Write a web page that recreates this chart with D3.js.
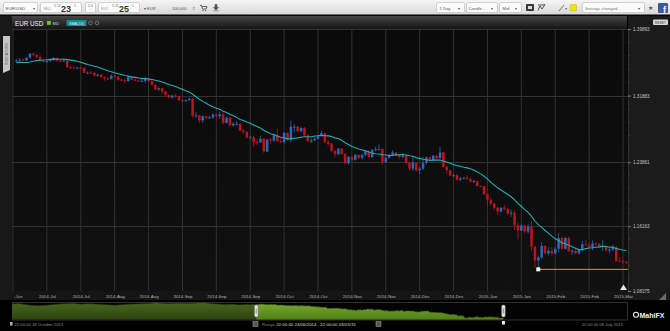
<!DOCTYPE html>
<html>
<head>
<meta charset="utf-8">
<script src="https://cdnjs.cloudflare.com/ajax/libs/d3/7.8.5/d3.min.js"></script>
<style>
body { margin:0; background:#000; }
svg { display:block; font-family:"Liberation Sans", Arial, sans-serif; }
</style>
</head>
<body>
<svg width="670" height="331"></svg>
<script>
// daily EUR/USD mid candles, 24 Jun 2014 .. 03 Mar 2015 (weekdays)
var opens = [
  1.3605,1.3608,1.3620,1.3613,1.3644,1.3692,1.3677,1.3654,1.3610,1.3595,
  1.3605,1.3615,1.3642,1.3609,1.3604,1.3610,1.3530,1.3526,1.3525,1.3525,
  1.3522,1.3463,1.3464,1.3461,1.3430,1.3440,1.3412,1.3397,1.3390,1.3427,
  1.3416,1.3380,1.3372,1.3362,1.3413,1.3379,1.3370,1.3363,1.3365,1.3400,
  1.3362,1.3318,1.3262,1.3277,1.3238,1.3194,1.3166,1.3189,1.3180,1.3131,
  1.3130,1.3133,1.3149,1.2945,1.2951,1.2891,1.2940,1.2920,1.2925,1.2960,
  1.2940,1.2962,1.2860,1.2923,1.2830,1.2849,1.2850,1.2765,1.2750,1.2685,
  1.2687,1.2628,1.2625,1.2670,1.2515,1.2660,1.2648,1.2715,1.2640,1.2627,
  1.2740,1.2655,1.2815,1.2815,1.2760,1.2798,1.2710,1.2640,1.2648,1.2670,
  1.2700,1.2735,1.2630,1.2610,1.2525,1.2483,1.2550,1.2488,1.2375,1.2450,
  1.2416,1.2475,1.2440,1.2475,1.2525,1.2450,1.2535,1.2545,1.2545,1.2390,
  1.2440,1.2470,1.2505,1.2470,1.2450,1.2470,1.2380,1.2310,1.2380,1.2290,
  1.2310,1.2380,1.2445,1.2410,1.2465,1.2435,1.2505,1.2330,1.2290,1.2225,
  1.2230,1.2175,1.2190,1.2200,1.2185,1.2155,1.2160,1.2100,1.2098,1.2000,
  1.1935,1.1890,1.1840,1.1795,1.1840,1.1825,1.1770,1.1780,1.1630,1.1565,
  1.1625,1.1555,1.1610,1.1370,1.1205,1.1240,1.1380,1.1290,1.1320,1.1290,
  1.1345,1.1475,1.1345,1.1475,1.1315,1.1320,1.1290,1.1330,1.1400,1.1390,
  1.1365,1.1410,1.1400,1.1375,1.1380,1.1330,1.1335,1.1365,1.1200,1.1195,
  1.1185];
var highs = [
  1.3628,1.3640,1.3635,1.3655,1.3700,1.3700,1.3685,1.3675,1.3615,1.3620,
  1.3630,1.3650,1.3650,1.3625,1.3625,1.3625,1.3545,1.3545,1.3535,1.3540,
  1.3530,1.3480,1.3490,1.3470,1.3450,1.3445,1.3420,1.3410,1.3445,1.3440,
  1.3425,1.3395,1.3395,1.3425,1.3420,1.3395,1.3380,1.3390,1.3415,1.3400,
  1.3370,1.3325,1.3295,1.3285,1.3245,1.3200,1.3195,1.3210,1.3185,1.3145,
  1.3140,1.3165,1.3160,1.2990,1.2955,1.2950,1.2945,1.2945,1.2975,1.2960,
  1.2995,1.2985,1.2935,1.2930,1.2870,1.2885,1.2855,1.2790,1.2760,1.2705,
  1.2705,1.2665,1.2700,1.2675,1.2670,1.2680,1.2725,1.2790,1.2680,1.2750,
  1.2745,1.2887,1.2845,1.2815,1.2815,1.2810,1.2720,1.2685,1.2695,1.2715,
  1.2765,1.2745,1.2655,1.2620,1.2530,1.2560,1.2555,1.2495,1.2460,1.2460,
  1.2485,1.2480,1.2490,1.2535,1.2525,1.2545,1.2575,1.2600,1.2555,1.2450,
  1.2490,1.2530,1.2510,1.2475,1.2500,1.2475,1.2395,1.2455,1.2390,1.2330,
  1.2455,1.2455,1.2455,1.2475,1.2470,1.2570,1.2510,1.2345,1.2300,1.2250,
  1.2245,1.2210,1.2205,1.2230,1.2200,1.2175,1.2165,1.2110,1.2105,1.2010,
  1.1960,1.1895,1.1850,1.1845,1.1870,1.1840,1.1815,1.1810,1.1660,1.1640,
  1.1630,1.1640,1.1680,1.1385,1.1265,1.1425,1.1385,1.1365,1.1365,1.1365,
  1.1534,1.1495,1.1490,1.1495,1.1345,1.1345,1.1345,1.1440,1.1450,1.1420,
  1.1445,1.1430,1.1420,1.1450,1.1390,1.1360,1.1390,1.1380,1.1245,1.1215,
  1.1200];
var lows = [
  1.3590,1.3595,1.3600,1.3605,1.3630,1.3665,1.3640,1.3600,1.3585,1.3580,
  1.3590,1.3600,1.3595,1.3590,1.3590,1.3520,1.3505,1.3510,1.3505,1.3500,
  1.3455,1.3450,1.3450,1.3420,1.3415,1.3400,1.3367,1.3375,1.3380,1.3405,
  1.3365,1.3360,1.3335,1.3355,1.3370,1.3360,1.3350,1.3350,1.3340,1.3355,
  1.3310,1.3255,1.3245,1.3215,1.3180,1.3160,1.3155,1.3165,1.3130,1.3120,
  1.3110,1.3125,1.2920,1.2920,1.2860,1.2860,1.2900,1.2905,1.2910,1.2925,
  1.2905,1.2840,1.2855,1.2815,1.2815,1.2830,1.2760,1.2730,1.2670,1.2670,
  1.2570,1.2590,1.2620,1.2500,1.2510,1.2610,1.2630,1.2635,1.2615,1.2615,
  1.2645,1.2625,1.2750,1.2740,1.2745,1.2700,1.2630,1.2615,1.2640,1.2660,
  1.2690,1.2615,1.2585,1.2505,1.2445,1.2470,1.2475,1.2365,1.2357,1.2400,
  1.2405,1.2420,1.2420,1.2460,1.2445,1.2440,1.2515,1.2530,1.2360,1.2380,
  1.2430,1.2460,1.2460,1.2430,1.2435,1.2360,1.2280,1.2280,1.2270,1.2245,
  1.2290,1.2360,1.2400,1.2400,1.2420,1.2430,1.2320,1.2250,1.2220,1.2210,
  1.2165,1.2160,1.2180,1.2175,1.2140,1.2140,1.2095,1.2090,1.2000,1.1860,
  1.1865,1.1815,1.1755,1.1780,1.1805,1.1750,1.1730,1.1570,1.1460,1.1560,
  1.1530,1.1530,1.1320,1.1115,1.1098,1.1225,1.1275,1.1265,1.1262,1.1270,
  1.1305,1.1335,1.1340,1.1310,1.1270,1.1280,1.1275,1.1315,1.1380,1.1355,
  1.1330,1.1375,1.1360,1.1320,1.1310,1.1290,1.1315,1.1190,1.1185,1.1170,
  1.1160];
var closes = [
  1.3608,1.3620,1.3613,1.3644,1.3692,1.3677,1.3654,1.3610,1.3595,1.3605,
  1.3615,1.3642,1.3609,1.3604,1.3610,1.3530,1.3526,1.3525,1.3525,1.3522,
  1.3463,1.3464,1.3461,1.3430,1.3440,1.3412,1.3397,1.3390,1.3427,1.3416,
  1.3380,1.3372,1.3362,1.3413,1.3379,1.3370,1.3363,1.3365,1.3400,1.3362,
  1.3318,1.3262,1.3277,1.3238,1.3194,1.3166,1.3189,1.3180,1.3131,1.3130,
  1.3133,1.3149,1.2945,1.2951,1.2891,1.2940,1.2920,1.2925,1.2960,1.2940,
  1.2962,1.2860,1.2923,1.2830,1.2849,1.2850,1.2765,1.2750,1.2685,1.2687,
  1.2628,1.2625,1.2670,1.2515,1.2660,1.2648,1.2715,1.2640,1.2627,1.2740,
  1.2655,1.2815,1.2815,1.2760,1.2798,1.2710,1.2640,1.2648,1.2670,1.2700,
  1.2735,1.2630,1.2610,1.2525,1.2483,1.2550,1.2488,1.2375,1.2450,1.2416,
  1.2475,1.2440,1.2475,1.2525,1.2450,1.2535,1.2545,1.2545,1.2390,1.2440,
  1.2470,1.2505,1.2470,1.2450,1.2470,1.2380,1.2310,1.2380,1.2290,1.2310,
  1.2380,1.2445,1.2410,1.2465,1.2435,1.2505,1.2330,1.2290,1.2225,1.2230,
  1.2175,1.2190,1.2200,1.2185,1.2155,1.2160,1.2100,1.2098,1.2000,1.1935,
  1.1890,1.1840,1.1795,1.1840,1.1825,1.1770,1.1780,1.1630,1.1565,1.1625,
  1.1555,1.1610,1.1370,1.1205,1.1240,1.1380,1.1290,1.1320,1.1290,1.1345,
  1.1475,1.1345,1.1475,1.1315,1.1320,1.1290,1.1330,1.1400,1.1390,1.1365,
  1.1410,1.1400,1.1375,1.1380,1.1330,1.1335,1.1365,1.1200,1.1195,1.1185,
  1.1175];
// closes before the visible range (feed the first SMA points)
var priorCloses = [1.3595,1.3660,1.3642,1.3595,1.3545,1.3530,1.3545,1.3540,1.3570,1.3545,1.3600,1.3620,1.3605,1.3605];
// weekly closes for the navigator, from 18 Oct 2013
var navHistory = [1.3685,1.3805,1.3580,1.3445,1.3400,1.3475,1.3590,1.3705,1.3745,1.3780,
  1.3675,1.3740,1.3680,1.3625,1.3545,1.3485,1.3555,1.3660,1.3690,1.3745,
  1.3800,1.3915,1.3790,1.3765,1.3835,1.3815,1.3810,1.3870,1.3935,1.3760,
  1.3690,1.3600,1.3640,1.3545,1.3605];

var tickIndex = [-1,9,19,29,39,49,59,69,79,89,99,109,119,129,139,149,159,169,179];
var tickLabels = ["2014-Jun","2014-Jul","2014-Jul","2014-Aug","2014-Aug","2014-Sep","2014-Sep","2014-Sep",
  "2014-Oct","2014-Oct","2014-Nov","2014-Nov","2014-Dec","2014-Dec","2015-Jan","2015-Jan","2015-Feb","2015-Feb","2015-Mar"];
var priceTicks = [1.39893, 1.31883, 1.23861, 1.16163, 1.08375];
var smaPeriod = 15;

var svg = d3.select("svg");
var defs = svg.append("defs");

function linGrad(id, stops)
{
  var g = defs.append("linearGradient").attr("id", id)
              .attr("x1",0).attr("y1",0).attr("x2",0).attr("y2",1);
  stops.forEach(function(s)
  {
    g.append("stop").attr("offset", s[0]).attr("stop-color", s[1]);
  });
}
linGrad("tbGrad", [[0,"#f6f6f6"],[1,"#d6d6d6"]]);
linGrad("titleGrad", [[0,"#474747"],[0.5,"#2c2c2c"],[1,"#151515"]]);
linGrad("navDark", [[0,"#48661c"],[1,"#2c4412"]]);
linGrad("navBright", [[0,"#79aa2c"],[1,"#4f7f1a"]]);
linGrad("plotGrad", [[0,"#0a0a0a"],[1,"#101010"]]);

var pL = 12, pR = 628, pT = 29, pB = 291;

// dates of trading days
var dates = [];
var day = new Date(2014, 5, 24);
while (dates.length < closes.length)
{
  if (day.getDay() % 6 !== 0) dates.push(new Date(day));
  day.setDate(day.getDate() + 1);
}

var candles = closes.map(function(c, i)
{
  return {i: i, date: dates[i], o: opens[i], h: highs[i], l: lows[i], c: c};
});

var allCloses = priorCloses.concat(closes);
var sma = closes.map(function(c, i)
{
  var end = i + priorCloses.length + 1;
  return {i: i, v: d3.mean(allCloses.slice(end - smaPeriod, end))};
});

var x = d3.scaleLinear().domain([-1, 179]).range([13, 623]);
var y = d3.scaleLinear().domain([1.08375, 1.39893]).range([pB, pT]);

/* backgrounds */
svg.append("rect").attr("width",670).attr("height",331).attr("fill","#000");
svg.append("rect").attr("x",0).attr("y",15).attr("width",12).attr("height",285).attr("fill","#181818");
svg.append("rect").attr("x",pR).attr("y",15).attr("width",42).attr("height",285).attr("fill","#1b1b1b");
svg.append("rect").attr("x",pL).attr("y",pT).attr("width",pR-pL).attr("height",pB-pT).attr("fill","url(#plotGrad)");
svg.append("rect").attr("x",pL).attr("y",pB).attr("width",pR-pL).attr("height",9).attr("fill","#151515");

defs.append("clipPath").attr("id","plotClip")
    .append("rect").attr("x",pL).attr("y",pT).attr("width",pR-pL).attr("height",pB-pT);

/* grid */
var grid = svg.append("g").attr("clip-path","url(#plotClip)");
grid.selectAll("line.v").data(tickIndex).enter().append("line")
    .attr("x1", function(d){ return x(d); }).attr("x2", function(d){ return x(d); })
    .attr("y1", pT).attr("y2", pB)
    .attr("stroke","#323232").attr("stroke-width",1);
grid.selectAll("line.h").data(priceTicks).enter().append("line")
    .attr("x1", pL).attr("x2", pR)
    .attr("y1", function(d){ return Math.round(y(d)) + 0.5; })
    .attr("y2", function(d){ return Math.round(y(d)) + 0.5; })
    .attr("stroke","#323232").attr("stroke-width",1);

/* candles */
var up = "#2a68bb", down = "#bf121b";
var cg = svg.append("g").attr("clip-path","url(#plotClip)");
cg.selectAll("line.wick").data(candles).enter().append("line")
  .attr("x1", function(d){ return x(d.i); }).attr("x2", function(d){ return x(d.i); })
  .attr("y1", function(d){ return y(d.h); }).attr("y2", function(d){ return y(d.l); })
  .attr("stroke", function(d){ return d.c >= d.o ? up : down; })
  .attr("stroke-width", 0.8);
cg.selectAll("rect.body").data(candles).enter().append("rect")
  .attr("x", function(d){ return x(d.i) - 1.25; })
  .attr("width", 2.5)
  .attr("y", function(d){ return y(Math.max(d.o, d.c)); })
  .attr("height", function(d){ return Math.max(1, Math.abs(y(d.o) - y(d.c))); })
  .attr("fill", function(d){ return d.c >= d.o ? up : down; });

/* SMA (15) */
cg.append("path").datum(sma)
  .attr("d", d3.line().x(function(d){ return x(d.i); }).y(function(d){ return y(d.v); }))
  .attr("fill","none").attr("stroke","#27abb4").attr("stroke-width",1.1);

/* low marker line */
var lowIdx = d3.minIndex(lows);
cg.append("line")
  .attr("x1", x(lowIdx)).attr("x2", x(closes.length - 1) + 1.5)
  .attr("y1", y(lows[lowIdx])).attr("y2", y(lows[lowIdx]))
  .attr("stroke","#bfae14").attr("stroke-width",1);
cg.append("rect")
  .attr("x", x(lowIdx) - 2).attr("y", y(lows[lowIdx]) - 2)
  .attr("width",4).attr("height",4).attr("fill","#f4f4f4");

/* price axis */
var yAxis = d3.axisRight(y).tickValues(priceTicks).tickFormat(d3.format(".5f")).tickSize(3).tickPadding(2);
var ya = svg.append("g").attr("transform","translate(" + pR + ",0)").call(yAxis);
ya.select(".domain").attr("stroke","#333");
ya.selectAll(".tick line").attr("stroke","#777");
ya.selectAll(".tick text").attr("fill","#c4c4c4").attr("font-size",4.6).attr("font-family","Liberation Sans, Arial, sans-serif");
var minor = [];
for (var k = 0; k < priceTicks.length - 1; k++)
{
  for (var m = 1; m < 5; m++) minor.push(priceTicks[k] + (priceTicks[k+1] - priceTicks[k]) * m / 5);
}
ya.selectAll("line.minor").data(minor).enter().append("line")
  .attr("x1",0).attr("x2",2)
  .attr("y1", function(d){ return y(d); }).attr("y2", function(d){ return y(d); })
  .attr("stroke","#3c3c3c");

/* time axis */
var xAxis = d3.axisBottom(x).tickValues(tickIndex).tickSize(0).tickPadding(3.5)
              .tickFormat(function(d, i){ return tickLabels[i]; });
var xa = svg.append("g").attr("transform","translate(0," + pB + ")").call(xAxis);
xa.select(".domain").remove();
xa.selectAll(".tick text").attr("fill","#b4b4b4").attr("font-size",4.4).attr("font-family","Liberation Sans, Arial, sans-serif");
defs.append("clipPath").attr("id","axisClipLocal")
    .append("rect").attr("x",14).attr("y",0).attr("width",625).attr("height",10);
xa.attr("clip-path","url(#axisClipLocal)");

/* toolbar */
var tb = svg.append("g");
tb.append("rect").attr("width",670).attr("height",15).attr("fill","url(#tbGrad)");
tb.append("rect").attr("y",14.5).attr("width",670).attr("height",1.5).attr("fill","#050505");
function box(bx, bw)
{
  tb.append("rect").attr("x",bx+0.5).attr("y",2.5).attr("width",bw).attr("height",10).attr("rx",1.5)
    .attr("fill","#fbfbfb").attr("stroke","#b9b9b9").attr("stroke-width",0.6);
}
function txt(tx, ty, s, size, col, weight, anchor)
{
  return tb.append("text").attr("x",tx).attr("y",ty).text(s).attr("font-size",size)
           .attr("fill",col || "#444").attr("font-weight",weight || "normal")
           .attr("text-anchor",anchor || "start");
}
box(3, 34); txt(5.5, 9.6, "EUR/USD", 4.4, "#555"); txt(33, 9.6, "▾", 4.4, "#555");
box(40, 41); txt(43, 9.8, "SELL", 3.6, "#999"); txt(54, 6.6, "1.11", 3.6, "#666");
txt(61, 11.8, "23", 9, "#333", "bold"); txt(74, 6.6, "1", 3.6, "#666");
box(85, 10); txt(90.5, 7.4, "2.0", 3.6, "#666", "normal", "middle"); txt(90.5, 11.2, "⌃", 3, "#888", "normal", "middle");
box(98, 41); txt(101, 9.8, "BUY", 3.6, "#999"); txt(112, 6.6, "1.11", 3.6, "#666");
txt(119, 11.8, "25", 9, "#333", "bold"); txt(132, 6.6, "1", 3.6, "#666");
txt(144, 9.6, "▾ EUR", 4, "#555");
txt(172, 9.6, "100,000", 4, "#555"); txt(192, 9.8, "⇕", 4.4, "#777");
// cart + download glyphs
tb.append("path").attr("d","M200,5.5 L201.5,5.5 L202.5,9 L206,9 L207,6.5 L202,6.5").attr("fill","none").attr("stroke","#555").attr("stroke-width",0.9);
tb.append("circle").attr("cx",203).attr("cy",10.6).attr("r",0.7).attr("fill","#555");
tb.append("circle").attr("cx",205.6).attr("cy",10.6).attr("r",0.7).attr("fill","#555");
tb.append("path").attr("d","M215,4.5 L217,4.5 L217,7.5 L218.6,7.5 L216,10 L213.4,7.5 L215,7.5 Z M213.5,10.8 L218.5,10.8").attr("fill","#555").attr("stroke","#555").attr("stroke-width",0.6);

box(436, 28); txt(439.5, 9.6, "1 Day", 4.2, "#555"); txt(458, 9.6, "▾", 4.2, "#555");
box(466, 31); txt(468.5, 9.6, "Candle...", 4.2, "#555"); txt(491, 9.6, "▾", 4.2, "#555");
box(499, 22); txt(502.5, 9.6, "Mid", 4.2, "#555"); txt(515, 9.6, "▾", 4.2, "#555");
tb.append("rect").attr("x",526).attr("y",4).attr("width",8).attr("height",7).attr("fill","#3a3a3a").attr("rx",1);
tb.append("rect").attr("x",528).attr("y",6).attr("width",4).attr("height",3).attr("fill","#ddd");
tb.append("path").attr("d","M538,10.5 L540,6 L542,9 L545,4.5 M538,5 L545,5").attr("fill","none").attr("stroke","#444").attr("stroke-width",0.9);
tb.append("path").attr("d","M559,11 L564,5").attr("stroke","#666").attr("stroke-width",0.9);
txt(565, 9.6, "▾", 4, "#666");
tb.append("rect").attr("x",570).attr("y",4.5).attr("width",6.5).attr("height",6.5).attr("rx",1.2).attr("fill","#f2e400").attr("stroke","#c8b800").attr("stroke-width",0.5);
box(582, 62); txt(585, 9.6, "Settings changed...", 4.2, "#777"); txt(638, 9.6, "▾", 4.2, "#555");
txt(650, 10.2, "★", 5.5, "#555", "normal", "middle");
tb.append("rect").attr("x",658).attr("y",3).attr("width",10).attr("height",10).attr("rx",1).attr("fill","#3b5aa0");
txt(664.5, 12.6, "f", 9, "#fff", "bold", "middle");

/* title bar */
var tt = svg.append("g");
tt.append("rect").attr("x",pL).attr("y",16).attr("width",pR-pL-1).attr("height",pT-16).attr("fill","url(#titleGrad)");
tt.append("text").attr("x",15).attr("y",25.5).text("EUR USD").attr("font-size",6.3).attr("fill","#f0f0f0");
tt.append("rect").attr("x",47).attr("y",21).attr("width",3.8).attr("height",3.8).attr("fill","#78c42c");
tt.append("text").attr("x",52.5).attr("y",24.6).text("MID").attr("font-size",3.6).attr("fill","#cfcfcf");
tt.append("rect").attr("x",66.5).attr("y",20).attr("width",20).attr("height",6).attr("rx",1).attr("fill","#158a91");
tt.append("text").attr("x",76.5).attr("y",24.5).text("SMA (15)").attr("font-size",3.6).attr("fill","#dff").attr("text-anchor","middle");
tt.append("circle").attr("cx",90.5).attr("cy",23).attr("r",1.8).attr("fill","none").attr("stroke","#888").attr("stroke-width",0.7);
tt.append("circle").attr("cx",97).attr("cy",23).attr("r",1.8).attr("fill","none").attr("stroke","#888").attr("stroke-width",0.7);
tt.append("rect").attr("x",653).attr("y",19.5).attr("width",15).attr("height",5.5).attr("rx",1).attr("fill","#d8d8d8");
tt.append("text").attr("x",660.5).attr("y",23.6).text("RESET").attr("font-size",3.4).attr("fill","#333").attr("text-anchor","middle");

/* indicators tab */
svg.append("path").attr("d","M3,36 L10,36 L10,70 L3,73 Z").attr("fill","#c6c6c6");
svg.append("text").attr("transform","translate(7.8,54) rotate(-90)").attr("text-anchor","middle")
   .text("INDICATORS").attr("font-size",3.6).attr("fill","#555");

/* marker icon + resize grip */
svg.append("path").attr("d","M620,290 L623.5,284.5 L627,290 Z").attr("fill","#e6e6e6");
svg.append("path").attr("d","M666,293 L666,300 L659,300 Z").attr("fill","#6a6a6a");

/* navigator */
var navStart = new Date(2013, 9, 18), navEnd = new Date(2015, 6, 8);
var navX = d3.scaleTime().domain([navStart, navEnd]).range([pL, pR]);
var navY = d3.scaleLinear().domain([1.084, 1.406]).range([320, 302]);
var navPoints = navHistory.map(function(v, k){ return {date: d3.timeDay.offset(navStart, 7*k), v: v}; })
  .concat(candles.map(function(d){ return {date: d.date, v: d.c}; }));
var selX0 = navX(dates[0]), selX1 = navX(dates[dates.length-1]);
var nav = svg.append("g");
nav.append("rect").attr("x",pL+0.5).attr("y",302.5).attr("width",pR-pL-1).attr("height",17.5)
   .attr("fill","#030303").attr("stroke","#3c3c3c").attr("stroke-width",0.8);
var navArea = d3.area().x(function(d){ return navX(d.date); }).y0(319.6).y1(function(d){ return navY(d.v); });
nav.append("path").datum(navPoints).attr("d", navArea).attr("fill","url(#navDark)");
defs.append("clipPath").attr("id","selClip")
    .append("rect").attr("x",selX0).attr("y",300).attr("width",selX1-selX0).attr("height",22);
nav.append("path").datum(navPoints).attr("d", navArea).attr("fill","url(#navBright)").attr("clip-path","url(#selClip)");
nav.append("path").datum(navPoints)
   .attr("d", d3.line().x(function(d){ return navX(d.date); }).y(function(d){ return navY(d.v); }))
   .attr("fill","none").attr("stroke","#2a3d10").attr("stroke-width",0.6);
[selX0, selX1].forEach(function(hx)
{
  nav.append("rect").attr("x",hx-1.8).attr("y",305).attr("width",3.6).attr("height",12).attr("rx",1.4)
     .attr("fill","#e4e4e4").attr("stroke","#777").attr("stroke-width",0.5);
  nav.append("line").attr("x1",hx).attr("x2",hx).attr("y1",308.5).attr("y2",313.5).attr("stroke","#666").attr("stroke-width",0.7);
});
nav.append("rect").attr("x",selX1-1.5).attr("y",321).attr("width",3).attr("height",3.5).attr("fill","#eee");

/* footer texts */
var ft = svg.append("g").attr("font-size",4.2);
ft.append("rect").attr("x",10).attr("y",322).attr("width",2.6).attr("height",3.6).attr("fill","#aaa");
ft.append("text").attr("x",14.5).attr("y",326).text("22:00:00 18 October 2013").attr("fill","#8a8a8a");
ft.append("rect").attr("x",253).attr("y",321.5).attr("width",5).attr("height",5).attr("fill","#555").attr("stroke","#aaa").attr("stroke-width",0.5);
var rt = ft.append("text").attr("x",262).attr("y",326).attr("font-size",4.4);
rt.append("tspan").text("Range ").attr("fill","#7a7a7a");
rt.append("tspan").text("22:00:00 24/06/2014 - 22:00:00 03/03/15").attr("fill","#d8d8d8");
ft.append("rect").attr("x",376).attr("y",321.5).attr("width",5).attr("height",5).attr("fill","#555").attr("stroke","#aaa").attr("stroke-width",0.5);
ft.append("text").attr("x",623).attr("y",326).attr("text-anchor","end").text("22:00:00 08 July 2015").attr("fill","#8a8a8a");

/* logo */
svg.append("circle").attr("cx",636).attr("cy",314.8).attr("r",2.5).attr("fill","none").attr("stroke","#f2f2f2").attr("stroke-width",1.1);
svg.append("text").attr("x",639.5).attr("y",317.6).text("MahiFX").attr("font-size",7).attr("font-weight","bold").attr("fill","#f2f2f2");
</script>
</body>
</html>
